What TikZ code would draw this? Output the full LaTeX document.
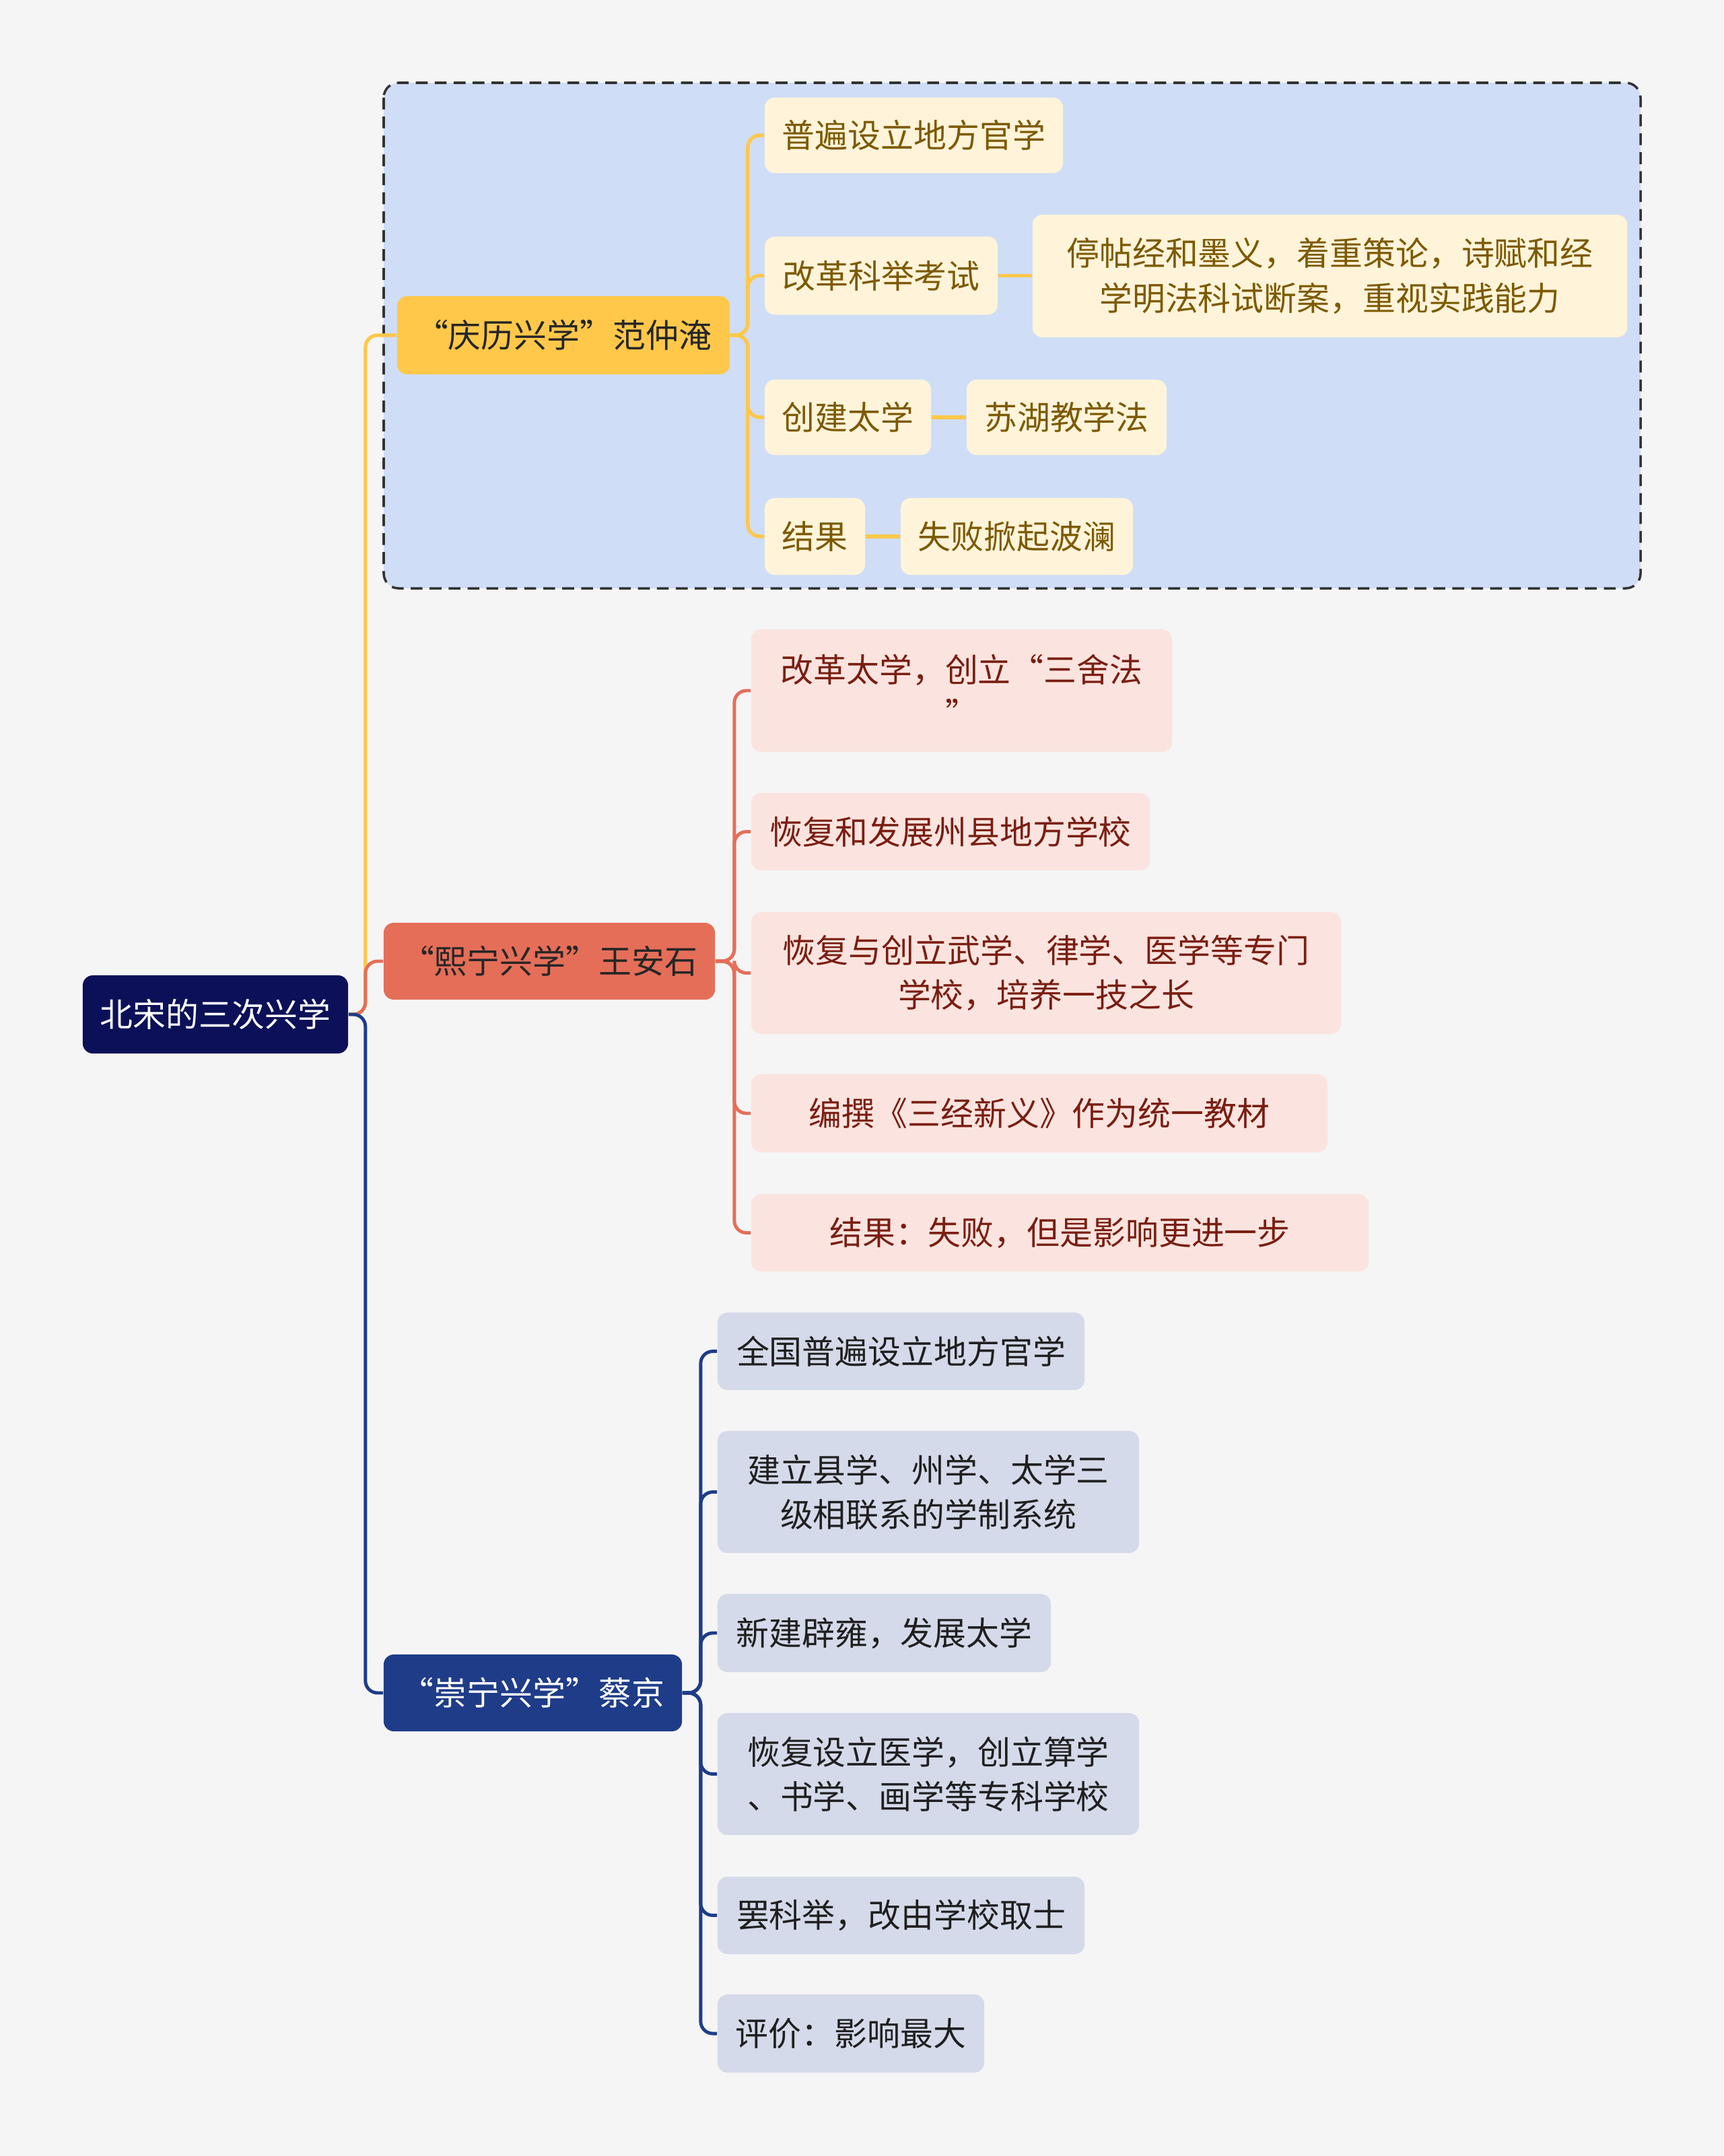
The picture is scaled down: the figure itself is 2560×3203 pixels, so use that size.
\documentclass[tikz,border=0pt]{standalone}
\usepackage{fontspec}
\newfontfamily\cjk{Noto Sans CJK SC}
\definecolor{bg}{HTML}{F5F5F5}
\definecolor{framefill}{HTML}{CFDDF6}
\definecolor{framedraw}{HTML}{333333}
\definecolor{rootfill}{HTML}{0B1058}
\definecolor{yel}{HTML}{FFC84A}
\definecolor{yelfill}{HTML}{FFF4DA}
\definecolor{yeltext}{HTML}{7D5A00}
\definecolor{red1}{HTML}{E56E58}
\definecolor{redfill}{HTML}{FBE4DF}
\definecolor{redtext}{HTML}{7A1E12}
\definecolor{blu}{HTML}{1E3C88}
\definecolor{blufill}{HTML}{D4DAE9}
\definecolor{blutext}{HTML}{1F1F1F}
\tikzset{
  base/.style={rounded corners=0.15cm, inner sep=0pt, align=center,
    font=\cjk\fontsize{13.9pt}{18.8pt}\selectfont},
  rootbox/.style={base, fill=rootfill, text=white},
  ybox1/.style={base, fill=yel, text=black!85},
  rbox1/.style={base, fill=red1, text=black!85},
  bbox1/.style={base, fill=blu, text=white},
  ybox/.style={base, fill=yelfill, text=yeltext},
  rbox/.style={base, fill=redfill, text=redtext},
  bbox/.style={base, fill=blufill, text=blutext},
  yline/.style={draw=yel, line width=1.5pt, rounded corners=0.18cm},
  rline/.style={draw=red1, line width=1.4pt, rounded corners=0.18cm},
  bline/.style={draw=blu, line width=1.4pt, rounded corners=0.18cm},
}
\begin{document}
\begin{tikzpicture}[x=0.01cm, y=-0.01cm]
\useasboundingbox (0,0) rectangle (2560,3203);
\fill[bg] (0,0) rectangle (2560,3203);
% dashed frame
\draw[framedraw, fill=framefill, line width=1pt, dash pattern=on 5pt off 3pt, rounded corners=0.22cm]
  (570,123) rectangle (2437,874);

% root
\node[rootbox, minimum width=3.94cm, minimum height=1.16cm] (root) at (320,1507) {北宋的三次兴学};

% level 1
\node[ybox1, minimum width=4.94cm, minimum height=1.16cm] (Y) at (837,498) {“庆历兴学”范仲淹};
\node[rbox1, minimum width=4.92cm, minimum height=1.14cm] (R) at (816,1428) {“熙宁兴学”王安石};
\node[bbox1, minimum width=4.43cm, minimum height=1.14cm] (B) at (791.5,2515) {“崇宁兴学”蔡京};

% yellow level 2
\node[ybox, minimum width=4.43cm, minimum height=1.12cm] (y1) at (1357.5,201) {普遍设立地方官学};
\node[ybox, minimum width=3.46cm, minimum height=1.16cm] (y2) at (1309,409.5) {改革科举考试};
\node[ybox, minimum width=8.83cm, minimum height=1.82cm] (y2a) at (1975.5,410) {停帖经和墨义，着重策论，诗赋和经\\学明法科试断案，重视实践能力};
\node[ybox, minimum width=2.47cm, minimum height=1.12cm] (y3) at (1259.5,620) {创建太学};
\node[ybox, minimum width=2.97cm, minimum height=1.12cm] (y3a) at (1584.5,620) {苏湖教学法};
\node[ybox, minimum width=1.49cm, minimum height=1.14cm] (y4) at (1210.5,797) {结果};
\node[ybox, minimum width=3.45cm, minimum height=1.14cm] (y4a) at (1510.5,797) {失败掀起波澜};

% red level 2
\node[rbox, minimum width=6.25cm, minimum height=1.82cm] (r1) at (1428.5,1026) {改革太学，创立“三舍法\\”};
\node[rbox, minimum width=5.92cm, minimum height=1.15cm] (r2) at (1412,1235.5) {恢复和发展州县地方学校};
\node[rbox, minimum width=8.76cm, minimum height=1.81cm] (r3) at (1554,1445.5) {恢复与创立武学、律学、医学等专门\\学校，培养一技之长};
\node[rbox, minimum width=8.56cm, minimum height=1.16cm] (r4) at (1544,1654) {编撰《三经新义》作为统一教材};
\node[rbox, minimum width=9.17cm, minimum height=1.15cm] (r5) at (1574.5,1831.5) {结果：失败，但是影响更进一步};

% blue level 2
\node[bbox, minimum width=5.45cm, minimum height=1.15cm] (b1) at (1338.5,2007.5) {全国普遍设立地方官学};
\node[bbox, minimum width=6.26cm, minimum height=1.81cm] (b2) at (1379,2216.5) {建立县学、州学、太学三\\级相联系的学制系统};
\node[bbox, minimum width=4.95cm, minimum height=1.16cm] (b3) at (1313.5,2426) {新建辟雍，发展太学};
\node[bbox, minimum width=6.26cm, minimum height=1.81cm] (b4) at (1379,2635.5) {恢复设立医学，创立算学\\、书学、画学等专科学校};
\node[bbox, minimum width=5.45cm, minimum height=1.15cm] (b5) at (1338.5,2845.5) {罢科举，改由学校取士};
\node[bbox, minimum width=3.96cm, minimum height=1.16cm] (b6) at (1264,3021) {评价：影响最大};

% trunk connectors
\draw[yline] (root.east) -- ++(25,0) |- (Y.west);
\draw[rline] (root.east) -- ++(25,0) |- (R.west);
\draw[bline] (root.east) -- ++(25,0) |- (B.west);

% yellow connectors
\foreach \c in {y1,y2,y3,y4} \draw[yline] (Y.east) -- ++(26,0) |- (\c.west);
\draw[yline] (y2.east) -- (y2a.west |- y2.east);
\draw[yline] (y3.east) -- (y3a.west);
\draw[yline] (y4.east) -- (y4a.west);

% red connectors
\foreach \c in {r1,r2,r3,r4,r5} \draw[rline] (R.east) -- ++(28,0) |- (\c.west);

% blue connectors
\foreach \c in {b1,b2,b3,b4,b5,b6} \draw[bline] (B.east) -- ++(27,0) |- (\c.west);
\end{tikzpicture}
\end{document}
